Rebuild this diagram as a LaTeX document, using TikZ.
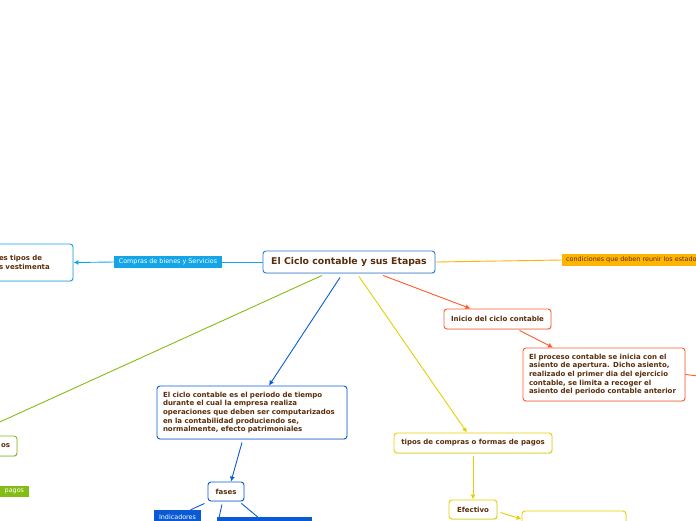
\documentclass[tikz,border=0pt]{standalone}
\usepackage{fontspec}
\setmainfont{DejaVu Sans}
\usepackage{xcolor}
\usetikzlibrary{arrows.meta, positioning, shadows}
\definecolor{textbrown}{RGB}{90, 45, 10}
\definecolor{mapblue}{RGB}{45, 120, 215}
\definecolor{mapcyan}{RGB}{20, 165, 232}
\definecolor{maporange}{RGB}{255, 180, 0}
\definecolor{mapgreen}{RGB}{132, 188, 22}
\definecolor{mapdblue}{RGB}{10, 90, 214}
\definecolor{mapyellow}{RGB}{230, 208, 0}
\definecolor{mapred}{RGB}{255, 90, 45}

\begin{document}
\begin{tikzpicture}[
  x=1pt, y=-1pt,
  every node/.style={font=\fontsize{7}{8.7}\selectfont\bfseries, text=textbrown},
  topic/.style={draw=#1, fill=white, line width=0.9pt, rounded corners=3pt, inner sep=0pt,
    drop shadow={opacity=0.2, shadow xshift=0.6pt, shadow yshift=-0.9pt}},
  tag/.style={fill=#1, text=white, inner sep=0pt, font=\fontsize{6.4}{7}\selectfont},
  arrow/.style={-{Latex[length=5pt, width=5pt]}, line width=0.9pt, color=#1},
  link/.style={line width=0.9pt, color=#1}
]
  \useasboundingbox (0,0) rectangle (696,520);
  \clip (0,0) rectangle (696,520);

  % Tema central
  \node[topic=mapblue, minimum width=172, minimum height=22, font=\fontsize{9.3}{10}\selectfont\bfseries] (title) at (349,262) {El Ciclo contable y sus Etapas};

  % Izquierda
  \node[tag=mapcyan, minimum width=108, minimum height=12] (compras) at (168,262) {Compras de bienes y Servicios};
  \node[topic=mapcyan, minimum width=93, minimum height=37, text width=55, inner xsep=19pt, align=left] (vest) at (26.5,262.5) {es tipos de\\ s vestimenta};
  \node[topic=mapgreen, minimum width=94, minimum height=20, text width=80, inner xsep=7pt, align=right] (pagoscaja) at (-30,446) {os};
  \node[tag=mapgreen, minimum width=64, minimum height=11, text width=58, inner xsep=5pt, align=right] (pagos) at (-5,491.5) {pagos};

  % Derecha
  \node[tag=maporange, text=textbrown, anchor=west, minimum width=150, minimum height=12, text width=146, inner xsep=4pt, align=left] (condic) at (562,260) {condiciones que deben reunir los estados};
  \node[topic=mapred, minimum width=107, minimum height=20] (inicio) at (497.5,319) {Inicio del ciclo contable};
  \node[topic=mapred, minimum width=162, minimum height=53, text width=150, align=left] (proceso) at (604,374.5) {El proceso contable se inicia con el\\ asiento de apertura. Dicho asiento,\\ realizado el primer dia del ejercicio\\ contable, se limita a recoger el\\ asiento del periodo contable anterior};
  \coordinate (procesofin) at (698,376);

  % Centro
  \node[topic=mapdblue, minimum width=190, minimum height=53, text width=178, align=left] (defin) at (252,412.5) {El ciclo contable es el periodo de tiempo\\ durante el cual la empresa realiza\\ operaciones que deben ser computarizados\\ en la contabilidad produciendo se,\\ normalmente, efecto patrimoniales};
  \node[topic=mapdblue, minimum width=36, minimum height=19] (fases) at (226,491.5) {fases};
  \node[tag=mapdblue, minimum width=47, minimum height=16, text depth=0pt] (indic) at (177.5,518) {\raisebox{2pt}{Indicadores}};
  \node[fill=mapdblue, minimum width=95, minimum height=14, inner sep=0pt] (fasebox) at (264.5,524) {};
  \coordinate (fasesb) at (218,522);

  \node[topic=mapyellow, minimum width=158, minimum height=20] (tipos) at (473,443) {tipos de compras o formas de pagos};
  \node[topic=mapyellow, minimum width=48, minimum height=19] (efect) at (473,509.5) {Efectivo};
  \node[topic=mapyellow, minimum width=104, minimum height=26] (transf) at (574,524) {};

  % Conectores
  \draw[link=mapcyan] (title.west) -- (compras.east);
  \draw[arrow=mapcyan] (compras.west) -- (vest.east);
  \draw[link=maporange] (title.east) -- (condic.west);
  \draw[link=mapgreen] ([xshift=-27pt, yshift=-2pt]title.south) -- (pagoscaja.north);
  \draw[arrow=mapdblue] ([xshift=-9pt, yshift=-4pt]title.south) -- ([xshift=17pt]defin.north);
  \draw[arrow=mapyellow] ([xshift=10pt, yshift=-3pt]title.south) -- ([xshift=-6pt]tipos.north);
  \draw[arrow=mapred] ([xshift=34pt, yshift=-2pt]title.south) -- ([xshift=-27pt]inicio.north);
  \draw[arrow=mapred] ([xshift=22pt, yshift=-1pt]inicio.south) -- ([xshift=-51pt]proceso.north);
  \draw[link=mapred] (proceso.east) -- (procesofin);
  \draw[arrow=mapdblue] ([xshift=-10pt, yshift=-3pt]defin.south) -- ([xshift=5pt]fases.north);
  \draw[link=mapdblue] ([xshift=-3pt, yshift=-2pt]fases.south west) -- ([xshift=13pt]indic.north);
  \draw[link=mapdblue] ([xshift=-4pt, yshift=-3pt]fases.south) -- (fasesb);
  \draw[link=mapdblue] ([xshift=-3pt, yshift=-2pt]fases.south east) -- ([xshift=-7pt]fasebox.north);
  \draw[arrow=mapyellow] ([yshift=-3pt]tipos.south) -- (efect.north);
  \draw[arrow=mapyellow] ([xshift=3pt, yshift=-3pt]efect.east) -- ([yshift=5pt]transf.west);

\end{tikzpicture}
\end{document}
